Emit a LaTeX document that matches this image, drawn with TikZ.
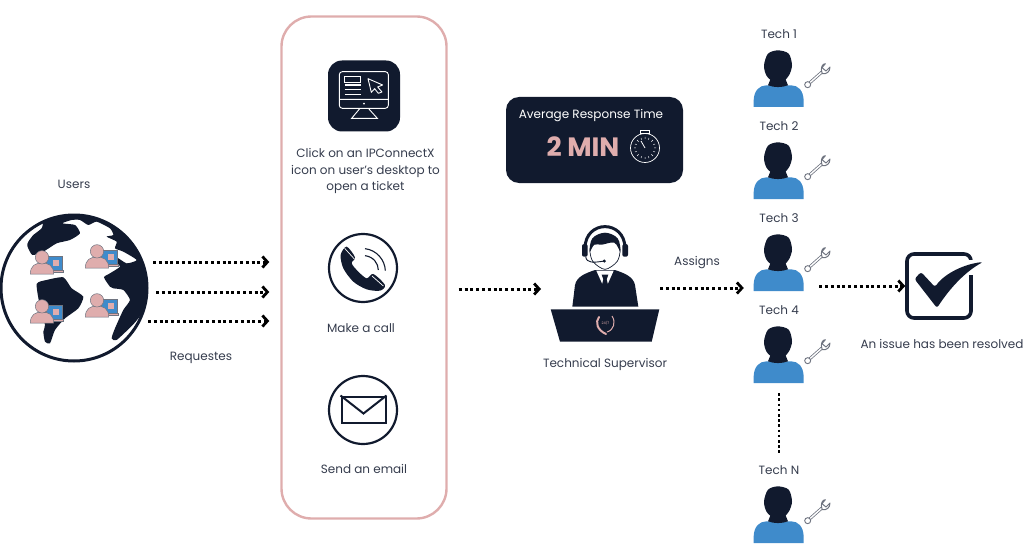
\documentclass[tikz,border=0pt]{standalone}
\usepackage{fontspec}
\setmainfont{Poppins}
\usepackage{xcolor}
\usetikzlibrary{arrows.meta, positioning, calc}
\definecolor{navy}{HTML}{111A2E}
\definecolor{rose}{HTML}{DFADAD}
\definecolor{techblue}{HTML}{3F8BCB}
\definecolor{toolgrey}{HTML}{6F7480}
\tikzset{
    caption/.style={font=\fontsize{12}{16.5}\selectfont, text=navy!85, align=center, inner sep=0pt},
    dotarrow/.style={line width=3pt, dash pattern=on 3pt off 2.8pt, -{Straight Barb[length=5pt, width=11pt, line width=2.8pt]}},
    iconring/.style={circle, draw=navy, line width=2.2pt, minimum size=68pt, inner sep=0pt},
    slot/.style={inner sep=0pt, minimum width=50pt, minimum height=60pt},
    techman/.pic={
        \begin{scope}[x=0.3333pt, y=-0.3333pt]
            \fill[techblue] (-73,0) -- (-73,-20) .. controls (-72,-50) and (-55,-65) .. (-35,-65) -- (40,-65) .. controls (60,-65) and (76,-50) .. (77,-20) -- (77,0) -- cycle;
            \fill[navy] (-22,-85) -- (22,-85) -- (30,-65) .. controls (10,-58) and (-10,-58) .. (-30,-65) -- cycle;
            \fill[navy] plot[smooth cycle] coordinates {(-42,-125) (-30,-160) (0,-170) (32,-160) (42,-125) (33,-95) (15,-77) (-15,-77) (-35,-95)};
            \draw[toolgrey, line width=3pt, line cap=round] (90,-68) -- (135,-108);
            \draw[white, line width=1.4pt, line cap=round] (90,-68) -- (135,-108);
            \draw[toolgrey, fill=white, line width=0.9pt] (89,-67) circle (9);
            \draw[toolgrey, fill=white, line width=1pt, line cap=round, line join=round] (133,-100) .. controls (125,-120) and (135,-130) .. (142,-130) -- (132,-118) -- (144,-108) -- (156,-120) .. controls (156,-105) and (145,-98) .. (133,-100);
        \end{scope}
    },
    webuser/.pic={
        \begin{scope}[x=0.3333pt, y=-0.3333pt]
            \draw[toolgrey, fill=techblue, line width=0.5pt] (14,-52) rectangle (60,-12);
            \fill[rose] (32,-42) rectangle (50,-24);
            \draw[toolgrey, fill=rose, line width=0.5pt] (14,-12) rectangle (64,-5);
            \draw[toolgrey, fill=rose, line width=0.5pt] (-35,0) .. controls (-35,-25) and (-20,-33) .. (0,-33) .. controls (20,-33) and (35,-25) .. (35,0) -- cycle;
            \draw[toolgrey, fill=rose, line width=0.5pt] (0,-50) circle (20);
        \end{scope}
    },
}
\begin{document}
\begin{tikzpicture}[x=1pt, y=-1pt]
    \useasboundingbox (0,0) rectangle (1024,556);

    % Users
    \node[caption] (userslabel) at (74,184.5) {Users};
    \node[circle, draw=navy, fill=white, line width=3pt, minimum size=146pt, inner sep=0pt] (globe) at (74,288) {};
    \begin{scope}[yshift=-170pt, x=0.3333pt, y=-0.3333pt]
        \clip (222,355) circle (220);
        \fill[navy] plot[smooth cycle, tension=0.35] coordinates {(85,215) (82,228) (97,255) (130,245) (170,220) (210,210) (240,190) (225,165) (187,160) (215,150) (240,150) (265,165) (290,155) (330,175) (340,195) (320,200) (350,215) (345,235) (370,245) (410,270) (380,280) (350,262) (345,275) (360,290) (330,310) (312,322) (330,350) (340,355) (370,360) (390,390) (370,420) (345,475) (335,505) (350,510) (400,463) (430,425) (450,380) (450,300) (420,235) (380,190) (330,150) (270,125) (200,125) (135,150) (125,175) (100,195)};
        \fill[navy] plot[smooth cycle, tension=0.35] coordinates {(110,342) (140,330) (190,322) (215,355) (250,380) (235,415) (195,445) (165,480) (150,520) (135,515) (130,485) (135,465) (120,410)};
    \end{scope}
    \pic at (42,274) {webuser};
    \pic at (97,268) {webuser};
    \pic at (42,323) {webuser};
    \pic at (97,317) {webuser};
    \node[caption] (requests) at (201,358) {Requestes};

    % Ticket channels
    \node[draw=rose, line width=2.4pt, rounded corners=30pt, minimum width=165pt, minimum height=502pt, inner sep=0pt] (channels) at (364,267.5) {};
    \node[fill=navy, rounded corners=14pt, minimum width=72pt, minimum height=71pt, inner sep=0pt] (desktop) at (364,96) {};
    \begin{scope}[shift={(300,40)}, x=0.3333pt, y=-0.3333pt]
        \draw[white, line width=0.9pt, rounded corners=3pt] (118,95) rectangle (265,205);
        \draw[white, line width=0.9pt] (118,178) -- (265,178) (180,205) -- (155,235) -- (232,235) -- (205,205);
        \fill[white] (192,191) circle (3);
        \draw[white, line width=0.9pt] (134,108) rectangle (182,126);
        \draw[white, line width=1.2pt] (134,135) -- (182,135) (134,149) -- (182,149) (134,163) -- (182,163);
        \draw[white, line width=0.9pt, line join=round] (204,116) -- (248,135) -- (233,141) -- (246,156) -- (235,160) -- (224,146) -- (214,157) -- cycle;
    \end{scope}
    \node[caption] (clicklabel) at (365.5,171) {Click on an IPConnectX\\icon on user’s desktop to\\open a ticket};
    \node[iconring] (phone) at (363,268) {};
    \begin{scope}[shift={(310,220)}, x=0.3333pt, y=-0.3333pt]
        \fill[navy] plot[smooth cycle, tension=0.5] coordinates {(110,80) (92,105) (100,145) (130,185) (170,208) (210,212) (225,195) (190,162) (170,175) (145,155) (125,130) (135,112)};
        \draw[white, line width=0.7pt] (104,85) -- (133,117) (186,168) -- (220,198);
        \draw[navy, line width=1.1pt] (165,107) .. controls (190,110) and (205,130) .. (205,150);
        \draw[navy, line width=1.1pt] (165,86) .. controls (200,90) and (225,120) .. (226,152);
    \end{scope}
    \node[caption] (calllabel) at (361,328) {Make a call};
    \node[iconring] (mail) at (363,410) {};
    \node[draw=navy, line width=2pt, minimum width=44pt, minimum height=26pt, inner sep=0pt] (envelope) at (363.5,409.5) {};
    \draw[navy, line width=2pt] (envelope.north west) -- ($(envelope.south)+(0,-10)$) -- (envelope.north east);
    \node[caption] (maillabel) at (364,469) {Send an email};

    % Response time
    \node[fill=navy, rounded corners=13pt, minimum width=177pt, minimum height=86pt, inner sep=0pt] (response) at (594.5,140) {};
    \node[caption, text=white, font=\fontsize{12}{14}\selectfont] (responselabel) at (591,116) {Average Response Time};
    \node[inner sep=0pt, text=rose, font=\fontsize{26.5}{28}\selectfont\bfseries] (minutes) at (583,147) {2 MIN};
    \node[circle, draw=white, line width=0.7pt, minimum size=29pt, inner sep=0pt] (stopwatch) at (645,148) {};
    \draw[white, line width=0.5pt] (645,137) -- (645,159) (634,148) -- (656,148) (637,140) -- (653,156) (637,156) -- (653,140) (641,138) -- (649,158) (641,158) -- (649,138) (635,144) -- (655,152) (635,152) -- (655,144);
    \fill[navy] (stopwatch.center) circle (9);
    \draw[white, line width=0.8pt] (stopwatch.center) -- (641,141);
    \draw[white, line width=0.7pt, fill=navy] (640.5,130) rectangle (649.5,133.5);

    % Supervisor
    \begin{scope}[shift={(605,306.7)}, x=0.3333pt, y=-0.3333pt]
        \fill[navy] (-98,0) -- (-90,-65) .. controls (-85,-90) and (-60,-100) .. (-30,-110) -- (30,-110) .. controls (60,-100) and (85,-90) .. (90,-65) -- (100,0) -- cycle;
        \fill[white] (-26,-108) -- (0,-50) -- (26,-108) -- cycle;
        \fill[navy] (-10,-96) -- (10,-96) -- (5,-82) -- (13,-50) -- (0,-32) -- (-13,-50) -- (-5,-82) -- cycle;
        \draw[navy, line width=0.7pt, fill=white] plot[smooth cycle] coordinates {(-45,-170) (-32,-205) (0,-215) (32,-205) (45,-170) (36,-135) (0,-112) (-36,-135)};
        \fill[navy] plot[smooth cycle, tension=0.6] coordinates {(-46,-165) (-38,-205) (0,-222) (38,-205) (46,-165) (28,-192) (-10,-186) (-32,-186)};
        \draw[navy, line width=3pt] (-60,-175) .. controls (-60,-262) and (60,-262) .. (60,-175);
        \fill[navy, rounded corners=2pt] (-69,-188) rectangle (-52,-150);
        \fill[navy, rounded corners=2pt] (52,-188) rectangle (69,-150);
        \draw[navy, line width=0.9pt] (-58,-150) .. controls (-55,-130) and (-35,-132) .. (-2,-137);
        \fill[navy] (-2,-137) circle (5);
    \end{scope}
    \path[fill=navy] (550.7,309.3) coordinate (deskleft) -- (659.3,309.3) -- (651.7,341.7) -- (560,341.7) -- cycle;
    \node[inner sep=0pt, text=rose, font=\fontsize{3.5}{4}\selectfont] (hotline) at (605.5,323.5) {24/7};
    \draw[rose, line width=1pt] (612,316) .. controls (616,322) and (614,330) .. (607,332);
    \draw[rose, line width=2pt, line cap=round] (599,317) .. controls (595,322) and (597,330) .. (606,334);
    \node[caption] (supervisorlabel) at (605,364.5) {Technical Supervisor};
    \coordinate (supervisorin) at (541,289);
    \coordinate (supervisorout) at (660,288);

    % Technicians
    \node[caption] (tech1label) at (779,34) {Tech 1};
    \node[caption] (tech2label) at (779,126) {Tech 2};
    \node[caption] (tech3label) at (779,218) {Tech 3};
    \node[caption] (tech4label) at (779,310) {Tech 4};
    \node[caption] (technlabel) at (779,470) {Tech N};
    \pic at (778,107) {techman};
    \pic at (778,199) {techman};
    \pic at (778,291) {techman};
    \pic at (778,383) {techman};
    \pic at (778,543) {techman};
    \node[slot] (tech3) at (779,262) {};
    \node[slot] (tech4) at (779,354) {};
    \node[slot, minimum height=20pt] (techn) at (779,465) {};
    \node[caption] (assignlabel) at (697,263) {Assigns};

    % Resolved
    \node[draw=navy, line width=3.6pt, rounded corners=7pt, minimum width=64pt, minimum height=64pt, inner sep=0pt] (checkbox) at (939,286) {};
    \fill[white] (966,259.5) rectangle (980,275);
    \draw[white, line width=3pt] (935,287) .. controls (945,273) and (965,264) .. (983,262);
    \fill[navy, rounded corners=2.5pt] (914.5,279) -- (921,272) -- (935,287) .. controls (945,273) and (965,264) .. (983,262) .. controls (965,272) and (950,288) .. (937,308) -- cycle;
    \node[caption] (resolvedlabel) at (942,344) {An issue has been resolved};

    % Arrows
    \coordinate (request1) at (153,262);
    \coordinate (request2) at (156,292);
    \coordinate (request3) at (148,321);
    \draw[dotarrow, shorten >=11pt] (request1) -- (channels.west |- request1);
    \draw[dotarrow, shorten >=11pt] (request2) -- (channels.west |- request2);
    \draw[dotarrow, shorten >=11pt] (request3) -- (channels.west |- request3);
    \draw[dotarrow, shorten <=11pt] (channels.east |- supervisorin) -- (supervisorin);
    \draw[dotarrow, shorten >=10pt] (supervisorout) -- (tech3.west |- supervisorout);
    \draw[dotarrow, shorten <=15pt] (tech3.east |- 0,286) -- (checkbox.west |- 0,286);
    \draw[line width=2.6pt, dash pattern=on 2.6pt off 2.6pt, shorten <=9pt] (tech4.south) -- (techn.north);
\end{tikzpicture}
\end{document}
